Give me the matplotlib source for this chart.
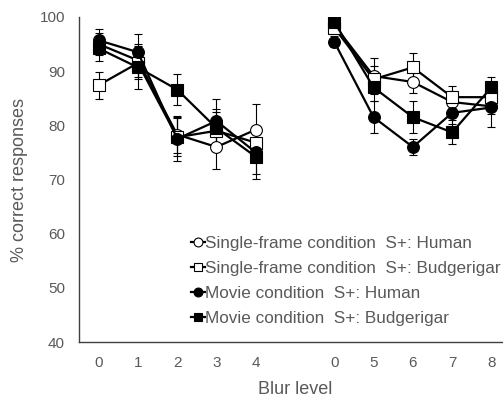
import numpy as np
import matplotlib
matplotlib.use("Agg")
import matplotlib.pyplot as plt

plt.rcParams['font.family'] = ['Liberation Sans', 'DejaVu Sans']

tick_labels = ["0", "1", "2", "3", "4", "", "0", "5", "6", "7", "8"]
nan = np.nan
single_human = [95.0, 92.0, 78.3, 76.0, 79.2, nan, 98.5, 89.1, 88.0, 84.3, 83.5]
single_human_err = [2.0, 3.0, 3.5, 4.0, 4.8, nan, 1.0, 3.3, 2.0, 2.0, 1.5]
single_budg = [87.4, 91.5, 77.8, 79.0, 76.8, nan, 98.0, 88.5, 90.7, 85.2, 85.2]
single_budg_err = [2.5, 3.0, 3.5, 3.5, 3.0, nan, 1.0, 2.5, 2.6, 2.0, 2.5]
movie_human = [95.7, 93.5, 77.5, 80.8, 75.0, nan, 95.4, 81.5, 76.0, 82.3, 83.3]
movie_human_err = [2.0, 3.3, 4.0, 4.0, 4.0, nan, 1.0, 3.0, 1.5, 2.0, 3.6]
movie_budg = [94.2, 90.7, 86.6, 79.5, 74.2, nan, 99.1, 87.0, 81.5, 78.7, 87.0]
movie_budg_err = [2.3, 4.0, 2.8, 3.5, 4.2, nan, 1.0, 2.5, 3.0, 2.2, 1.9]

labels = ["Single-frame condition  S+: Human",
          "Single-frame condition  S+: Budgerigar",
          "Movie condition  S+: Human",
          "Movie condition  S+: Budgerigar"]

fig = plt.figure(figsize=(5.03, 4.0), dpi=100)
ax = fig.add_axes([0.157, 0.145, 0.859, 0.8125])
x = np.arange(len(tick_labels))

series = [
    (single_human, single_human_err, 'o', 'white'),
    (single_budg, single_budg_err, 's', 'white'),
    (movie_human, movie_human_err, 'o', 'black'),
    (movie_budg, movie_budg_err, 's', 'black'),
]
handles = []
for (y, e, m, fc), lab in zip(series, labels):
    ax.errorbar(x, y, yerr=e, fmt='none', ecolor='black', elinewidth=0.8,
                capsize=3, capthick=0.8, zorder=2)
    h, = ax.plot(x, y, color='black', lw=1.6, marker=m, markersize=8.5,
                 markerfacecolor=fc, markeredgecolor='black', markeredgewidth=0.8,
                 label=lab, zorder=3)
    handles.append(h)

ax.set_xlim(-0.5, 10.5)
ax.set_ylim(40, 100)
ax.set_yticks([40, 50, 60, 70, 80, 90, 100])
ax.set_xticks(x)
ax.set_xticklabels(tick_labels)
ax.tick_params(axis='both', length=0, labelsize=11, colors='#595959', pad=10)
for s in ['top', 'right']:
    ax.spines[s].set_visible(False)
for s in ['left', 'bottom']:
    ax.spines[s].set_color('#404040')
    ax.spines[s].set_linewidth(1.0)

ax.set_ylabel("% correct responses", fontsize=13, color='#595959', labelpad=8)
ax.set_xlabel("Blur level", fontsize=13, color='#595959', labelpad=8)

leg = ax.legend(handles=handles, loc='upper left', bbox_to_anchor=(0.259, 0.327),
                frameon=False, fontsize=12.3, handlelength=0.8, handletextpad=0.05,
                labelspacing=0.6, borderaxespad=0, borderpad=0, markerscale=0.75)
for t in leg.get_texts():
    t.set_color('#595959')

fig.savefig("out.png", dpi=100)
